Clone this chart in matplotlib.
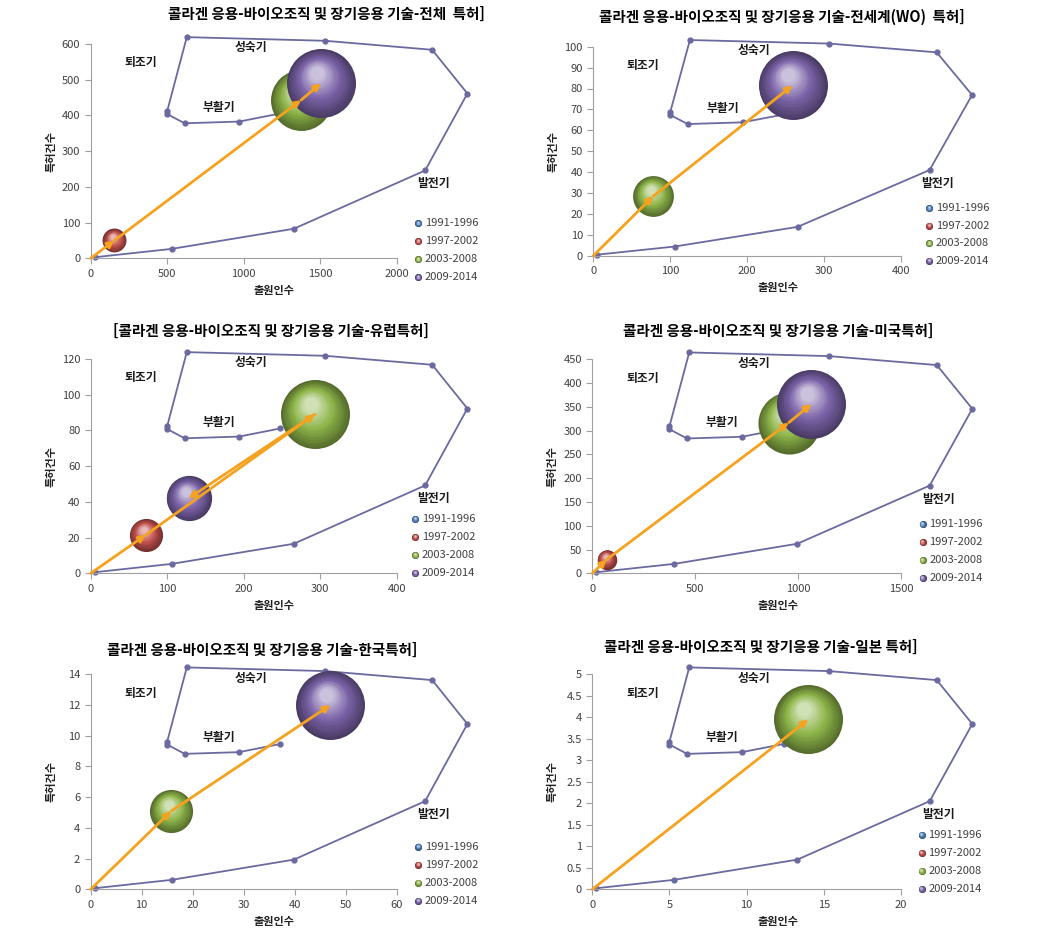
import numpy as np
import matplotlib
matplotlib.use("Agg")
import matplotlib.pyplot as plt
import matplotlib.colors as mcolors
from matplotlib.transforms import ScaledTranslation
from matplotlib.ticker import MultipleLocator, FuncFormatter

plt.rcParams['font.family'] = ['Noto Sans CJK KR', 'DejaVu Sans']

nan = np.nan

# Periods and colours
periods = ['1991-1996', '1997-2002', '2003-2008', '2009-2014']
period_colors = ['#4f81bd', '#c0504d', '#8db449', '#7b63a8']

titles = [
    '콜라겐 응용-바이오조직 및 장기응용 기술-전체  특허]',
    '콜라겐 응용-바이오조직 및 장기응용 기술-전세계(WO)  특허]',
    '[콜라겐 응용-바이오조직 및 장기응용 기술-유럽특허]',
    '콜라겐 응용-바이오조직 및 장기응용 기술-미국특허]',
    '콜라겐 응용-바이오조직 및 장기응용 기술-한국특허]',
    '콜라겐 응용-바이오조직 및 장기응용 기술-일본 특허]',
]

# 출원인수 (x), 특허건수 (y), bubble size (relative) per period
total_x = [0, 155, 1375, 1505]
total_y = [0, 50, 443, 490]
total_size = [0, 12, 78, 100]

wo_x = [0, nan, 78, 259]
wo_y = [0, nan, 28.5, 81.5]
wo_size = [0, 0, 35, 100]

ep_x = [0, 72, 293, 128]
ep_y = [0, 21.5, 89, 42]
ep_size = [0, 23, 100, 43]

us_x = [0, 70, 955, 1065]
us_y = [0, 29, 317, 356]
us_size = [0, 8, 81, 100]

kr_x = [0, nan, 15.8, 47]
kr_y = [0, nan, 5.1, 12]
kr_size = [0, 0, 39, 100]

jp_x = [0, nan, 14, nan]
jp_y = [0, nan, 3.95, nan]
jp_size = [0, 0, 100, 0]

panel_x = [total_x, wo_x, ep_x, us_x, kr_x, jp_x]
panel_y = [total_y, wo_y, ep_y, us_y, kr_y, jp_y]
panel_size = [total_size, wo_size, ep_size, us_size, kr_size, jp_size]

x_max = [2000, 400, 400, 1500, 60, 20]
x_step = [500, 100, 100, 500, 10, 5]
y_max = [600, 100, 120, 450, 14, 5]
y_step = [100, 10, 20, 50, 2, 0.5]

# technology life-cycle curve (same sketch in every panel, axes fraction)
cycle_x = [0.013, 0.265, 0.664, 1.093, 1.231, 1.116, 0.766, 0.314, 0.250, 0.250, 0.307, 0.485, 0.620]
cycle_y = [0.005, 0.044, 0.138, 0.410, 0.769, 0.973, 1.015, 1.032, 0.687, 0.673, 0.630, 0.638, 0.676]
stage_names = ['퇴조기', '성숙기', '부활기', '발전기']
stage_x = [0.162, 0.523, 0.42, 1.12]
stage_y = [0.912, 0.982, 0.706, 0.347]

# layout in pixels: (left, right, bottom, top)
W, H = 1057, 939
boxes = [(90.7, 396.7, 258.3, 44), (593.3, 901, 255.7, 46.7),
         (90.7, 396.7, 573.3, 359), (592.3, 901, 573.3, 359.3),
         (90.7, 396.7, 889.3, 674.3), (592.3, 901, 889.3, 674.3)]
title_pos = [(326, 14), (782, 17), (271, 331), (778, 331), (262, 650), (761, 647)]
legend_pos = [(1.07, 0.163), (1.091, 0.227), (1.06, 0.253),
              (1.07, 0.229), (1.07, 0.198), (1.067, 0.253)]

fig = plt.figure(figsize=(W / 100, H / 100), dpi=100)

orange = '#f5a21e'
curve_col = '#6a6aa0'
max_r = 34.5  # px radius of the largest bubble


def sphere(ax, x, y, r, color, z, trans=None):
    base = np.array(mcolors.to_rgb(color))
    dark = base * 0.6
    light = base + (1 - base) * 0.6
    if trans is None:
        trans = ax.transData
    n = 18
    for i in range(n):
        t = i / (n - 1)
        rr = r * (1 - 0.8 * t)
        if t < 0.5:
            c = dark + (base - dark) * (t / 0.5)
        else:
            c = base + (light - base) * ((t - 0.5) / 0.5)
        off = ScaledTranslation(-0.12 * r * t / 100, 0.3 * r * t / 100, fig.dpi_scale_trans)
        ax.scatter([x], [y], s=(2 * rr * 0.72) ** 2, color=c, lw=0,
                   transform=trans + off, zorder=z, clip_on=False)


for k in range(6):
    l, r, b, t = boxes[k]
    ax = fig.add_axes([l / W, 1 - b / H, (r - l) / W, (b - t) / H])
    ax.set_xlim(0, x_max[k])
    ax.set_ylim(0, y_max[k])
    ax.xaxis.set_major_locator(MultipleLocator(x_step[k]))
    ax.yaxis.set_major_locator(MultipleLocator(y_step[k]))
    ax.yaxis.set_major_formatter(FuncFormatter(lambda v, p: '%g' % v))
    for s in ['top', 'right']:
        ax.spines[s].set_visible(False)
    for s in ['left', 'bottom']:
        ax.spines[s].set_color('#a0a0a0')
        ax.spines[s].set_linewidth(0.8)
    ax.tick_params(direction='out', length=4, width=0.8, color='#a0a0a0',
                   labelcolor='#404040', labelsize=8)
    ax.patch.set_alpha(0)

    # cycle curve
    ax.plot(cycle_x, cycle_y, transform=ax.transAxes, clip_on=False,
            color=curve_col, lw=1.3, marker='o', ms=3.5, zorder=2)
    for name, sx, sy in zip(stage_names, stage_x, stage_y):
        ax.text(sx, sy, name, transform=ax.transAxes, ha='center', va='center',
                fontsize=8.5, fontweight='bold', color='#1a1a1a')

    # bubbles
    xs, ys, ss = panel_x[k], panel_y[k], panel_size[k]
    smax = max(ss)
    for i in range(4):
        if np.isnan(xs[i]) or ss[i] <= 0:
            continue
        sphere(ax, xs[i], ys[i], max_r * np.sqrt(ss[i] / smax), period_colors[i], 3 + i)

    # arrows linking periods
    pts = [(xs[i], ys[i]) for i in range(4) if not np.isnan(xs[i])]
    for p0, p1 in zip(pts[:-1], pts[1:]):
        ax.annotate('', xy=p1, xytext=p0,
                    arrowprops=dict(arrowstyle='-|>', color=orange, lw=2,
                                    mutation_scale=10, shrinkA=0, shrinkB=0),
                    zorder=10, annotation_clip=False)

    # labels
    fig.text(title_pos[k][0] / W, 1 - title_pos[k][1] / H, titles[k],
             ha='center', va='center', fontsize=10.5, fontweight='bold')
    ax.text(0.6, -0.15, '출원인수', transform=ax.transAxes, ha='center', va='center',
            fontsize=8, fontweight='bold', color='#222222')
    ax.text(-0.13, 0.5, '특허건수', transform=ax.transAxes, ha='center', va='center',
            rotation=90, fontsize=8, fontweight='bold', color='#222222')

    # legend
    lx, ly = legend_pos[k]
    for i, name in enumerate(periods):
        yy = ly - i * 0.084
        sphere(ax, lx, yy, 3.5, period_colors[i], 12, trans=ax.transAxes)
        ax.text(lx + 0.022, yy, name, transform=ax.transAxes, ha='left', va='center',
                fontsize=8, color='#404040')

fig.savefig('out.png', dpi=100)
